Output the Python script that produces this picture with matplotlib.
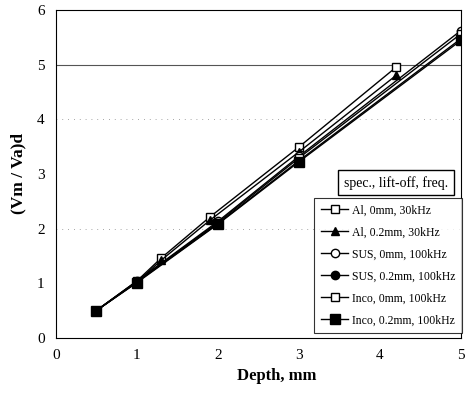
import matplotlib.pyplot as plt

plt.rcParams['font.family'] = ['Liberation Serif', 'DejaVu Serif']

# data
al_x = [0.5, 1.0, 1.3, 1.9, 3.0, 4.2]
al0_y = [0.5, 1.04, 1.46, 2.21, 3.49, 4.95]
al2_y = [0.5, 1.02, 1.42, 2.15, 3.40, 4.80]

sus_x = [0.5, 1.0, 2.0, 3.0, 5.0]
sus0_y = [0.5, 1.04, 2.13, 3.32, 5.62]
sus2_y = [0.5, 1.02, 2.09, 3.24, 5.47]

inco_x = [0.5, 1.0, 2.0, 3.0, 5.0]
inco0_y = [0.5, 1.03, 2.11, 3.29, 5.56]
inco2_y = [0.5, 1.01, 2.08, 3.22, 5.44]

labels = ["Al, 0mm, 30kHz", "Al, 0.2mm, 30kHz", "SUS, 0mm, 100kHz",
          "SUS, 0.2mm, 100kHz", "Inco, 0mm, 100kHz", "Inco, 0.2mm, 100kHz"]

fig = plt.figure(figsize=(4.65, 3.93), dpi=100)
ax = fig.add_axes([0.120, 0.140, 0.871, 0.835])

lw = 1.0
ax.plot(al_x, al0_y, color='black', lw=lw, marker='s', ms=6, mfc='white', mec='black', label=labels[0])
ax.plot(al_x, al2_y, color='black', lw=lw, marker='^', ms=6, mfc='black', mec='black', label=labels[1])
ax.plot(sus_x, sus0_y, color='black', lw=lw, marker='o', ms=6, mfc='white', mec='black', label=labels[2])
ax.plot(sus_x, sus2_y, color='black', lw=lw, marker='o', ms=6, mfc='black', mec='black', label=labels[3])
ax.plot(inco_x, inco0_y, color='black', lw=lw, marker='s', ms=6, mfc='white', mec='black', label=labels[4])
ax.plot(inco_x, inco2_y, color='black', lw=lw, marker='s', ms=7, mfc='black', mec='black', label=labels[5])

# gridlines
ax.axhline(5, color='#555555', lw=0.8, zorder=0)
ax.axhline(4, color='#888888', lw=0.6, ls=(0, (1, 6)), zorder=0)
ax.axhline(2, color='#888888', lw=0.6, ls=(0, (1, 6)), zorder=0)

ax.set_xlim(0, 5)
ax.set_ylim(0, 6)
ax.set_xticks([0, 1, 2, 3, 4, 5])
ax.set_yticks([0, 1, 2, 3, 4, 5, 6])
ax.tick_params(direction='in', length=0, labelsize=11, pad=8)

ax.set_xlabel("Depth, mm", fontsize=12, fontweight='bold', x=0.546, labelpad=4)
ax.set_ylabel("(Vm / Va)d", fontsize=12.5, fontweight='bold', labelpad=8)

leg = ax.legend(loc='lower right', bbox_to_anchor=(1.002, 0.015), fontsize=8.5,
                frameon=True, fancybox=False, edgecolor='black',
                handlelength=2.3, handletextpad=0.3, labelspacing=0.85,
                borderpad=0.55, borderaxespad=0.0)
leg.get_frame().set_linewidth(0.8)

ax.text(0.84, 0.473, "spec., lift-off, freq.", transform=ax.transAxes,
        ha='center', va='center', fontsize=10,
        bbox=dict(boxstyle='square,pad=0.4', fc='white', ec='black', lw=1.0))

fig.savefig("out.png", dpi=100)
